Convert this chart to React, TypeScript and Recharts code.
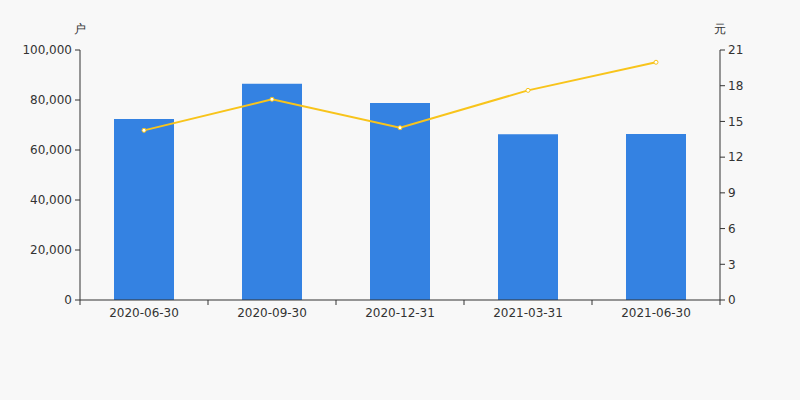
import { ComposedChart, Bar, Line, XAxis, YAxis } from "recharts";

const dates = ["2020-06-30", "2020-09-30", "2020-12-31", "2021-03-31", "2021-06-30"];
const holders = [72400, 86500, 78800, 66300, 66400];
const avgPrice = [14.25, 16.86, 14.47, 17.61, 19.97];
const leftTicks = [0, 20000, 40000, 60000, 80000, 100000];
const rightTicks = [0, 3, 6, 9, 12, 15, 18, 21];

const data = dates.map((d, i) => ({ date: d, holders: holders[i], price: avgPrice[i] }));

const TEXT = "#333";
const FONT = "DejaVu Sans, sans-serif";

function DateTick(props: any) {
  const { x, y, payload, index, visibleTicksCount } = props;
  const off = payload.offset || 0;
  return (
    <g>
      <line x1={x - off} x2={x - off} y1={y - 8} y2={y - 3} stroke={TEXT} />
      {index === visibleTicksCount - 1 && (
        <line x1={x + off} x2={x + off} y1={y - 8} y2={y - 3} stroke={TEXT} />
      )}
      <text x={x} y={y} dy="0.71em" textAnchor="middle" fill={TEXT} fontSize={12} fontFamily={FONT}>
        {payload.value}
      </text>
    </g>
  );
}

const unitLabel = (text: string, side: "left" | "right") => (props: any) => {
  const vb = props.viewBox;
  const x = side === "left" ? vb.x + vb.width : vb.x;
  return (
    <text x={x} y={vb.y - 17} textAnchor="middle" fill={TEXT} fontSize={12} fontFamily={FONT}>
      {text}
    </text>
  );
};

export default function App() {
  return (
    <div style={{ width: 800, height: 400, background: "#f8f8f8" }}>
      <style>{`html,body{margin:0;padding:0;background:#f8f8f8}`}</style>
      <ComposedChart
        width={800}
        height={400}
        data={data}
        margin={{ top: 50, right: 0, left: 0, bottom: 70 }}
      >
        <XAxis
          dataKey="date"
          height={30}
          tickLine={false}
          axisLine={{ stroke: TEXT }}
          tickSize={6}
          tickMargin={2}
          tick={<DateTick />}
          interval={0}
        />
        <YAxis
          yAxisId="left"
          width={80}
          domain={[0, 100000]}
          ticks={leftTicks}
          tickFormatter={(v: number) => v.toLocaleString("en-US")}
          tick={{ fill: TEXT, fontSize: 12, fontFamily: FONT }}
          axisLine={{ stroke: TEXT }}
          tickLine={{ stroke: TEXT }}
          tickSize={5}
          tickMargin={3}
          label={unitLabel("户", "left")}
        />
        <YAxis
          yAxisId="right"
          orientation="right"
          width={80}
          domain={[0, 21]}
          ticks={rightTicks}
          tick={{ fill: TEXT, fontSize: 12, fontFamily: FONT }}
          axisLine={{ stroke: TEXT }}
          tickLine={{ stroke: TEXT }}
          tickSize={5}
          tickMargin={3}
          label={unitLabel("元", "right")}
        />
        <Bar yAxisId="left" dataKey="holders" fill="#3482e2" barSize={60} isAnimationActive={false} />
        <Line
          yAxisId="right"
          dataKey="price"
          stroke="#f8c41b"
          strokeWidth={2}
          dot={{ r: 2, fill: "#fff", stroke: "#f8c41b", strokeWidth: 1 }}
          activeDot={false}
          isAnimationActive={false}
        />
      </ComposedChart>
    </div>
  );
}
